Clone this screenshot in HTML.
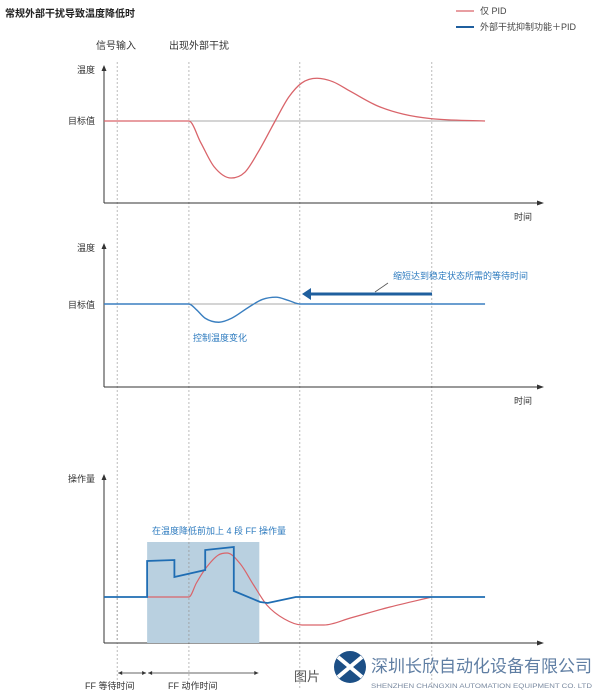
<!DOCTYPE html>
<html><head><meta charset="utf-8"><style>
html,body{margin:0;padding:0;background:#fff;}
svg{display:block;font-family:"Liberation Sans","Noto Sans CJK SC",sans-serif;}
</style></head><body>
<svg id="c" width="600" height="693" viewBox="0 0 600 693">
<text x="5" y="17" font-size="10" font-weight="bold" fill="#222">常规外部干扰导致温度降低时</text>
<g>
<line x1="456" y1="11" x2="474" y2="11" stroke="#d9646a" stroke-width="1.2"/>
<text x="480" y="14" font-size="9" fill="#444">仅 PID</text>
<line x1="456" y1="27" x2="474" y2="27" stroke="#1f5f9e" stroke-width="2"/>
<text x="480" y="30" font-size="9" fill="#444">外部干扰抑制功能＋PID</text>
</g>
<text x="96" y="49" font-size="10" fill="#333">信号输入</text>
<text x="169" y="49" font-size="10" fill="#333">出现外部干扰</text>
<g id="vlines"></g>
<g id="charts"></g>
<g>
<text x="294" y="681" font-size="13" fill="#555">图片</text>
<circle cx="350" cy="667" r="16" fill="#1c4f86"/>
<path d="M338 657 L362 677 M338 677 L362 657" stroke="#fff" stroke-width="4"/>
<text x="371" y="672" font-size="17" fill="#5f7ea3" textLength="221" lengthAdjust="spacingAndGlyphs">深圳长欣自动化设备有限公司</text>
<text x="371" y="688" font-size="6.5" fill="#7a8aa0" textLength="221" lengthAdjust="spacingAndGlyphs">SHENZHEN CHANGXIN AUTOMATION EQUIPMENT CO. LTD</text>
</g>
</svg>
<script>
const events=[3, 19.3, 44.5, 74.5];
const chart1Red=[[0,0],[19.3,0],[22,-38],[25,-80],[28.9,-100],[32,-90],[35,-55],[38.9,0],[42,42],[45,67],[48.4,75],[52,69],[56,52],[62,27],[68,12],[74.5,4],[86.6,0]];
const chart2Blue=[[0,0],[19.3,0],[21,-10],[23,-25],[26.1,-32],[29,-25],[33,-5],[36,8],[39.1,12],[42,6],[44.5,0],[86.6,0]];
const chart3Blue=[[0,0],[9.8,0],[9.8,36],[16,37],[16,20],[23,27],[23,47],[29.5,50],[29.5,6],[35.5,-5],[37.2,-6],[43.6,0],[86.6,0]];
const chart3Red=[[9.8,0],[19.3,0],[21,14],[23,28],[26,42],[28,44],[31,33],[34,12],[37,-8],[41,-22],[45,-28],[50,-28],[56,-21],[65,-10],[74.5,0]];
const NS="http://www.w3.org/2000/svg";
const svg=document.getElementById('c');
const X=t=>104+t*4.4;
function el(tag,attrs,parent){const e=document.createElementNS(NS,tag);for(const k in attrs)e.setAttribute(k,attrs[k]);(parent||svg).appendChild(e);return e;}
function smooth(pts,Y){
  const p=pts.map(d=>[X(d[0]),Y(d[1])]);const n=p.length;
  const dx=[],s=[];for(let i=0;i<n-1;i++){dx[i]=p[i+1][0]-p[i][0];s[i]=(p[i+1][1]-p[i][1])/dx[i];}
  const m=[];m[0]=s[0];m[n-1]=s[n-2];
  for(let i=1;i<n-1;i++){m[i]=(s[i-1]*s[i]<=0)?0:(s[i-1]+s[i])/2;}
  for(let i=0;i<n-1;i++){if(s[i]===0){m[i]=0;m[i+1]=0;continue;}const a=m[i]/s[i],b=m[i+1]/s[i],h=a*a+b*b;if(h>9){const t=3/Math.sqrt(h);m[i]=t*a*s[i];m[i+1]=t*b*s[i];}}
  let d='M'+p[0][0]+' '+p[0][1];
  for(let i=0;i<n-1;i++){const h=dx[i]/3;d+=` C${p[i][0]+h} ${p[i][1]+m[i]*h} ${p[i+1][0]-h} ${p[i+1][1]-m[i+1]*h} ${p[i+1][0]} ${p[i+1][1]}`;}
  return d;}
function poly(pts,Y){return pts.map((d,i)=>(i?'L':'M')+X(d[0])+' '+Y(d[1])).join(' ');}
const vg=document.getElementById('vlines');
events.forEach((t,i)=>{const l=el('line',{x1:X(t),x2:X(t),y1:62,y2:690,stroke:'#aaa','stroke-width':0.8,'stroke-dasharray':'2,2'},vg);

});
const cg=document.getElementById('charts');
function axes(top,bottom,ylabel,name){const g=el('g',{},cg);


el('line',{x1:104,y1:top,x2:104,y2:bottom,stroke:'#333','stroke-width':1},g);
el('path',{d:`M101.5 ${top+5} L104 ${top-1} L106.5 ${top+5}Z`,fill:'#333'},g);
el('line',{x1:104,y1:bottom,x2:542,y2:bottom,stroke:'#333','stroke-width':1},g);
el('path',{d:`M537 ${bottom-2.5} L544 ${bottom} L537 ${bottom+2.5}Z`,fill:'#333'},g);
const yl=el('text',{x:95,y:top+7,'font-size':9,fill:'#333','text-anchor':'end'},g);yl.textContent=ylabel;


if(name!=='manipulated-chart'){const xl=el('text',{x:514,y:bottom+17,'font-size':9,fill:'#333'},g);xl.textContent='时间';

}
return g;}
// chart 1
const g1=axes(66,203,'温度','pid-only-chart');const Y1=v=>121-v*0.57;
el('line',{x1:104,x2:485,y1:121,y2:121,stroke:'#aaa','stroke-width':1},g1);
let t=el('text',{x:95,y:124,'font-size':9,fill:'#333','text-anchor':'end'},g1);t.textContent='目标值';
const r1=el('path',{d:smooth(chart1Red,Y1),fill:'none',stroke:'#d9646a','stroke-width':1.3},g1);


// chart 2
const g2=axes(244,387,'温度','ff-pid-chart');const Y2=v=>304-v*0.57;
el('line',{x1:104,x2:485,y1:304,y2:304,stroke:'#aaa','stroke-width':1},g2);
t=el('text',{x:95,y:308,'font-size':9,fill:'#333','text-anchor':'end'},g2);t.textContent='目标值';
const b2=el('path',{d:smooth(chart2Blue,Y2),fill:'none',stroke:'#3a7fc0','stroke-width':1.4},g2);


el('line',{x1:432,y1:294,x2:308,y2:294,stroke:'#1f5f9e','stroke-width':3},g2);
el('path',{d:'M302 294 L311 288 L311 300Z',fill:'#1f5f9e'},g2);
el('line',{x1:375,y1:292,x2:388,y2:283,stroke:'#555','stroke-width':0.8},g2);
t=el('text',{x:393,y:279,'font-size':9,fill:'#2e7bbf'},g2);t.textContent='缩短达到稳定状态所需的等待时间';


t=el('text',{x:193,y:341,'font-size':9,fill:'#2e7bbf'},g2);t.textContent='控制温度变化';


// chart 3
const g3=axes(475,643,'操作量','manipulated-chart');const Y3=v=>597-v*1.0;
const sh=el('rect',{x:X(9.8),y:542,width:X(35.3)-X(9.8),height:101,fill:'#b9d0e0'},g3);


events.slice(0,2).forEach(tt=>el('line',{x1:X(tt),x2:X(tt),y1:542,y2:643,stroke:'#999','stroke-width':0.8,'stroke-dasharray':'2,2'},g3));
t=el('text',{x:152,y:534,'font-size':9,fill:'#2e7bbf'},g3);t.textContent='在温度降低前加上 4 段 FF 操作量';


const r3=el('path',{d:smooth(chart3Red,Y3),fill:'none',stroke:'#d9646a','stroke-width':1.2},g3);


const b3=el('path',{d:poly(chart3Blue,Y3),fill:'none',stroke:'#1f6db3','stroke-width':1.8},g3);


// bottom spans
function span(a,b,label,lx,name){const g=el('g',{},svg);


el('line',{x1:X(a)+1,x2:X(b)-1,y1:673,y2:673,stroke:'#333','stroke-width':0.8},g);
el('path',{d:`M${X(a)+1} 673 l4 -2 v4Z M${X(b)-1} 673 l-4 -2 v4Z`,fill:'#333'},g);
const tx=el('text',{x:lx,y:689,'font-size':9,fill:'#333'},g);tx.textContent=label;}
span(3,9.8,'FF 等待时间',85,'ff-wait-span');
span(9.8,35.3,'FF 动作时间',168,'ff-action-span');
</script>
</body></html>
